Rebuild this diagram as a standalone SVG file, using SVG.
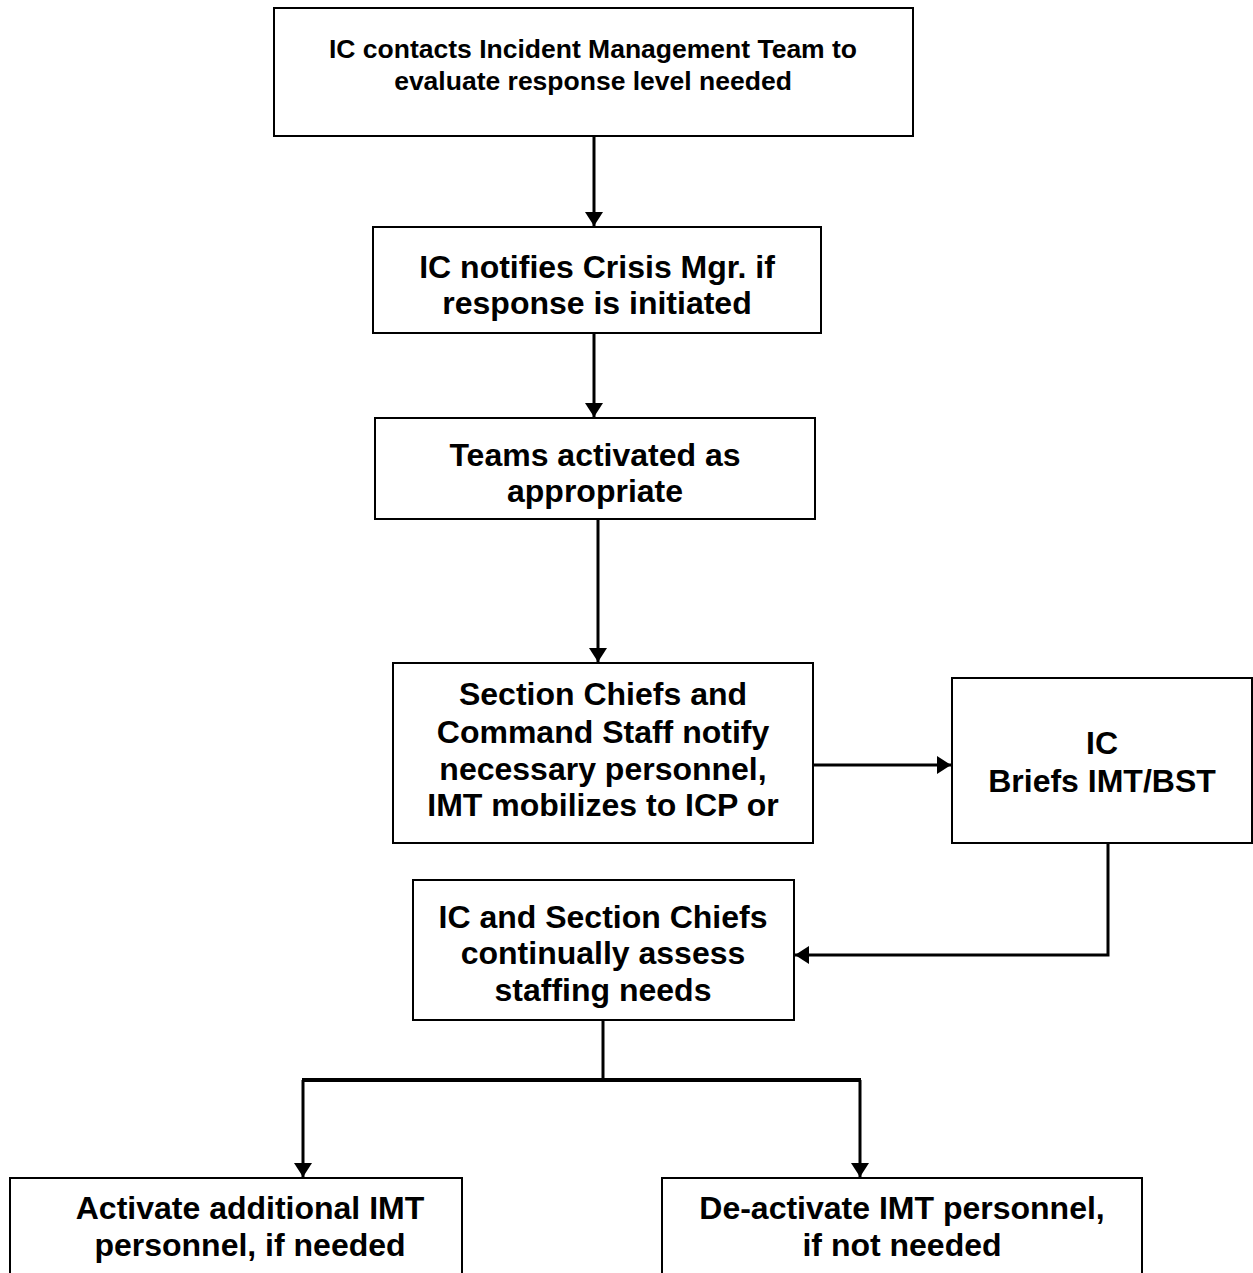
<svg xmlns="http://www.w3.org/2000/svg" width="1253" height="1273" viewBox="0 0 1253 1273">
<style>
.box{fill:#fff;stroke:#000;stroke-width:2}
.t{font-family:"Liberation Sans",Arial,sans-serif;font-weight:bold;text-anchor:middle;fill:#000}
.s{font-size:26.5px}
.m{font-size:32px}
.c{fill:none;stroke:#000;stroke-width:3}
</style>
<defs>
<marker id="ah" viewBox="0 0 14 18" refX="14" refY="9" markerWidth="14" markerHeight="18" orient="auto" markerUnits="userSpaceOnUse">
<path d="M0,0 L14,9 L0,18 z" fill="#000"/>
</marker>
</defs>
<rect width="1253" height="1273" fill="#fff"/>
<g id="connectors">
<line class="c" x1="594" y1="136" x2="594" y2="226" marker-end="url(#ah)"/>
<line class="c" x1="594" y1="333" x2="594" y2="417" marker-end="url(#ah)"/>
<line class="c" x1="598" y1="519" x2="598" y2="662" marker-end="url(#ah)"/>
<line class="c" x1="813" y1="765" x2="951" y2="765" marker-end="url(#ah)"/>
<polyline class="c" points="1108,843 1108,955 795,955" marker-end="url(#ah)"/>
<line class="c" x1="603" y1="1020" x2="603" y2="1080"/>
<line class="c" x1="302" y1="1080" x2="861" y2="1080" style="stroke-width:4"/>
<line class="c" x1="303" y1="1080" x2="303" y2="1177" marker-end="url(#ah)"/>
<line class="c" x1="860" y1="1080" x2="860" y2="1177" marker-end="url(#ah)"/>
</g>
<g id="n1">
<rect class="box" x="274" y="8" width="639" height="128"/>
<text class="t s" x="593" y="58">IC contacts Incident Management Team to</text>
<text class="t s" x="593" y="90">evaluate response level needed</text>
</g>
<g id="n2">
<rect class="box" x="373" y="227" width="448" height="106"/>
<text class="t m" x="597" y="278">IC notifies Crisis Mgr. if</text>
<text class="t m" x="597" y="314">response is initiated</text>
</g>
<g id="n3">
<rect class="box" x="375" y="418" width="440" height="101"/>
<text class="t m" x="595" y="466">Teams activated as</text>
<text class="t m" x="595" y="502">appropriate</text>
</g>
<g id="n4">
<rect class="box" x="393" y="663" width="420" height="180"/>
<text class="t m" x="603" y="705">Section Chiefs and</text>
<text class="t m" x="603" y="743">Command Staff notify</text>
<text class="t m" x="603" y="780">necessary personnel,</text>
<text class="t m" x="603" y="816">IMT mobilizes to ICP or</text>
</g>
<g id="n5">
<rect class="box" x="952" y="678" width="300" height="165"/>
<text class="t m" x="1102" y="754">IC</text>
<text class="t m" x="1102" y="792">Briefs IMT/BST</text>
</g>
<g id="n6">
<rect class="box" x="413" y="880" width="381" height="140"/>
<text class="t m" x="603" y="928">IC and Section Chiefs</text>
<text class="t m" x="603" y="964">continually assess</text>
<text class="t m" x="603" y="1001">staffing needs</text>
</g>
<g id="n7">
<rect class="box" x="10" y="1178" width="452" height="100"/>
<text class="t m" x="250" y="1219">Activate additional IMT</text>
<text class="t m" x="250" y="1256">personnel, if needed</text>
</g>
<g id="n8">
<rect class="box" x="662" y="1178" width="480" height="100"/>
<text class="t m" x="902" y="1219">De-activate IMT personnel,</text>
<text class="t m" x="902" y="1256">if not needed</text>
</g>
</svg>
